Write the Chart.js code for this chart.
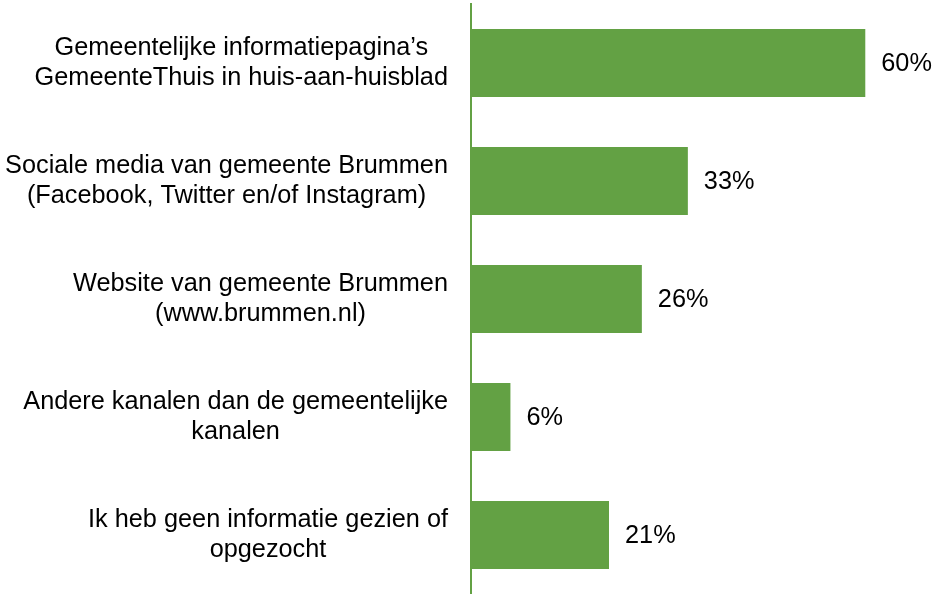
<!DOCTYPE html>
<html>
<head>
<meta charset="utf-8">
<script src="https://cdn.jsdelivr.net/npm/chart.js@4"></script>
<style>
  html, body { margin: 0; padding: 0; background: #fff; }
  #wrap { width: 935px; height: 594px; position: relative; }
</style>
</head>
<body>
<div id="wrap"><canvas id="chart"></canvas></div>
<script>
// Data
const categories = [
  ['Gemeentelijke informatiepagina\u2019s', 'GemeenteThuis in huis-aan-huisblad'],
  ['Sociale media van gemeente Brummen', '(Facebook, Twitter en/of Instagram)'],
  ['Website van gemeente Brummen', '(www.brummen.nl)'],
  ['Andere kanalen dan de gemeentelijke', 'kanalen'],
  ['Ik heb geen informatie gezien of', 'opgezocht']
];
const values = [60, 33, 26, 6, 21];

const GREEN = '#63a144';
const FONT = "'Liberation Sans', Arial, sans-serif";

// Draw category labels: block right-aligned, lines centred within the block
const labelPlugin = {
  id: 'labels',
  afterDraw(chart) {
    const ctx = chart.ctx;
    const yScale = chart.scales.y;
    const meta = chart.getDatasetMeta(0);
    ctx.save();
    ctx.font = '25.3px ' + FONT;
    ctx.fillStyle = '#000';
    ctx.textBaseline = 'middle';
    ctx.textAlign = 'center';
    const right = 448;
    const lineH = 30;
    categories.forEach((lines, i) => {
      const cy = yScale.getPixelForTick(i);
      const w = Math.max(...lines.map(l => ctx.measureText(l).width));
      const cx = right - w / 2;
      const y0 = cy - (lines.length - 1) * lineH / 2;
      lines.forEach((l, j) => ctx.fillText(l, cx, y0 + j * lineH));
    });
    // value labels
    ctx.textAlign = 'left';
    meta.data.forEach((bar, i) => {
      ctx.fillText(values[i] + '%', bar.x + 16, bar.y + 1);
    });
    ctx.restore();
  }
};

new Chart(document.getElementById('chart'), {
  type: 'bar',
  data: {
    labels: categories,
    datasets: [{
      data: values,
      backgroundColor: GREEN,
      borderWidth: 0,
      categoryPercentage: 1,
      barPercentage: 0.576
    }]
  },
  options: {
    indexAxis: 'y',
    responsive: true,
    maintainAspectRatio: false,
    animation: false,
    layout: { padding: { top: 4, right: 4, bottom: 0, left: 0 } },
    plugins: {
      legend: { display: false },
      tooltip: { enabled: false }
    },
    scales: {
      x: {
        display: false,
        min: 0,
        max: 70
      },
      y: {
        grid: { display: false, drawTicks: false },
        border: { display: true, color: GREEN, width: 2 },
        ticks: { display: false },
        afterFit(scale) { scale.width = 471; }
      }
    }
  },
  plugins: [labelPlugin]
});
</script>
</body>
</html>
